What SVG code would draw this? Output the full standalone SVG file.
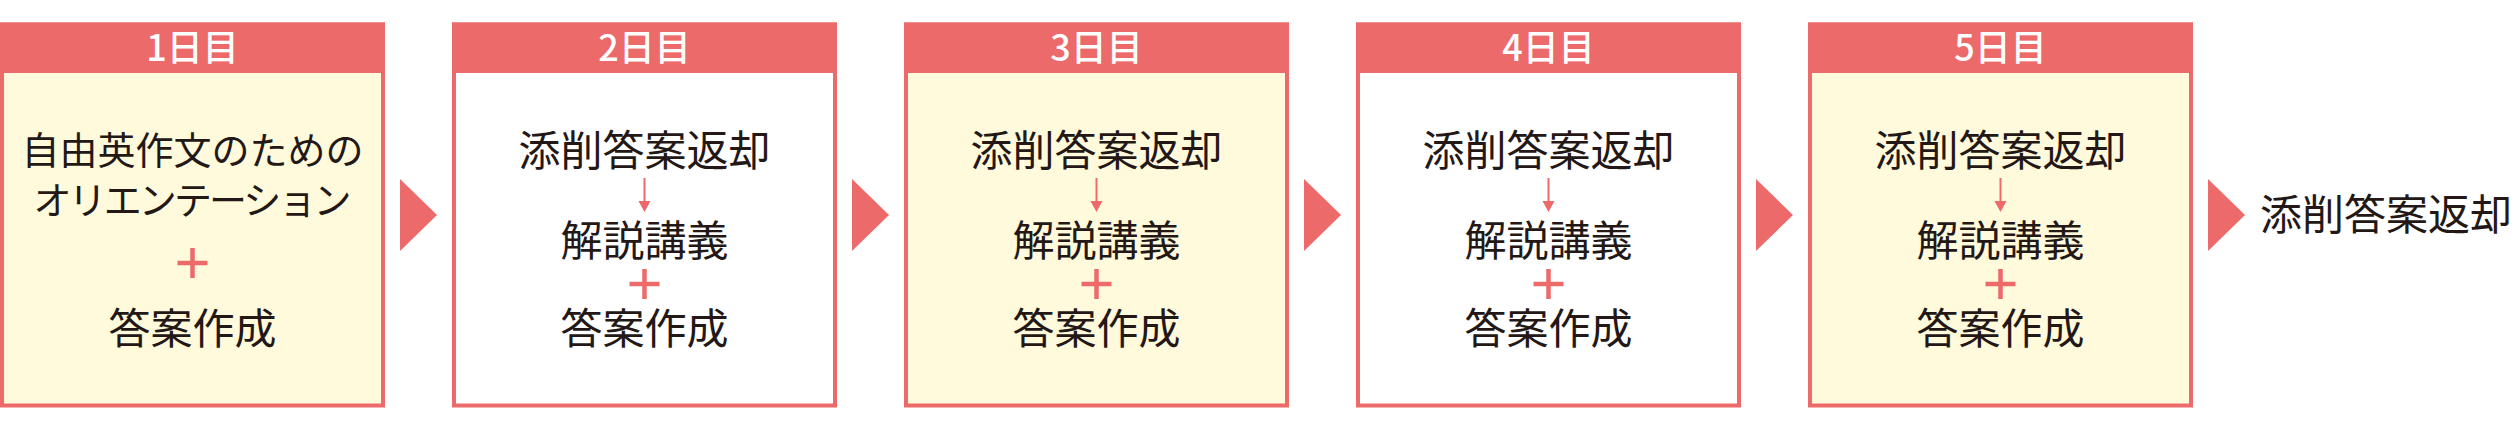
<svg xmlns="http://www.w3.org/2000/svg" width="2518" height="427" viewBox="0 0 2518 427">
<style>
.box{stroke:#EC6A6A;stroke-width:4}
.cream{fill:#FFFADC}
.white{fill:#FFFFFF}
.hdr{fill:#EC6A6A}
.ht{font-family:"Noto Sans CJK JP","Noto Sans",sans-serif;font-size:36px;font-weight:500;fill:#FFFFFF;text-anchor:middle}
.t{font-family:"Noto Sans CJK JP","Noto Sans",sans-serif;font-size:42px;fill:#231815;text-anchor:middle}
.t38{font-size:38px}
.plus{stroke:#EC6A6A;stroke-width:4.5;fill:none}
.tri{fill:#EC6A6A}
.sa{stroke:#EC6A6A;stroke-width:2;fill:none}
.sah{fill:#EC6A6A}
</style>
<defs>
<g id="plus"><path class="plus" d="M-15 0H15M0 -15V15"/></g>
<g id="down"><path class="sa" d="M0 0V25"/><path class="sah" d="M-6 23L6 23L0 34Z"/></g>
</defs>
<rect width="2518" height="427" fill="#FFFFFF"/>
<g id="day1">
<rect class="box cream" x="2" y="24.5" width="381" height="381"/>
<rect class="hdr" x="0" y="22.5" width="385" height="50.5"/>
<text class="ht" x="192.5" y="61">1日目</text>
<text class="t t38" x="192.5" y="164">自由英作文のための</text>
<text class="t t38" x="192.5" y="214" textLength="318" lengthAdjust="spacing">オリエンテーション</text>
<use href="#plus" x="192.5" y="263"/>
<text class="t" x="192.5" y="344">答案作成</text>
</g>
<g id="day2">
<rect class="box white" x="454" y="24.5" width="381" height="381"/>
<rect class="hdr" x="452" y="22.5" width="385" height="50.5"/>
<text class="ht" x="644.5" y="61">2日目</text>
<text class="t" x="644.5" y="166">添削答案返却</text>
<use href="#down" x="644.5" y="178"/>
<text class="t" x="644.5" y="256">解説講義</text>
<use href="#plus" x="644.5" y="284"/>
<text class="t" x="644.5" y="344">答案作成</text>
</g>
<g id="day3">
<rect class="box cream" x="906" y="24.5" width="381" height="381"/>
<rect class="hdr" x="904" y="22.5" width="385" height="50.5"/>
<text class="ht" x="1096.5" y="61">3日目</text>
<text class="t" x="1096.5" y="166">添削答案返却</text>
<use href="#down" x="1096.5" y="178"/>
<text class="t" x="1096.5" y="256">解説講義</text>
<use href="#plus" x="1096.5" y="284"/>
<text class="t" x="1096.5" y="344">答案作成</text>
</g>
<g id="day4">
<rect class="box white" x="1358" y="24.5" width="381" height="381"/>
<rect class="hdr" x="1356" y="22.5" width="385" height="50.5"/>
<text class="ht" x="1548.5" y="61">4日目</text>
<text class="t" x="1548.5" y="166">添削答案返却</text>
<use href="#down" x="1548.5" y="178"/>
<text class="t" x="1548.5" y="256">解説講義</text>
<use href="#plus" x="1548.5" y="284"/>
<text class="t" x="1548.5" y="344">答案作成</text>
</g>
<g id="day5">
<rect class="box cream" x="1810" y="24.5" width="381" height="381"/>
<rect class="hdr" x="1808" y="22.5" width="385" height="50.5"/>
<text class="ht" x="2000.5" y="61">5日目</text>
<text class="t" x="2000.5" y="166">添削答案返却</text>
<use href="#down" x="2000.5" y="178"/>
<text class="t" x="2000.5" y="256">解説講義</text>
<use href="#plus" x="2000.5" y="284"/>
<text class="t" x="2000.5" y="344">答案作成</text>
</g>
<g id="final">
<text class="t" x="2260" y="230" style="text-anchor:start">添削答案返却</text>
</g>
<g id="connectors">
<path class="tri" d="M400 179L437 215L400 251Z"/>
<path class="tri" d="M852 179L889 215L852 251Z"/>
<path class="tri" d="M1304 179L1341 215L1304 251Z"/>
<path class="tri" d="M1756 179L1793 215L1756 251Z"/>
<path class="tri" d="M2208 179L2245 215L2208 251Z"/>
</g>
</svg>
